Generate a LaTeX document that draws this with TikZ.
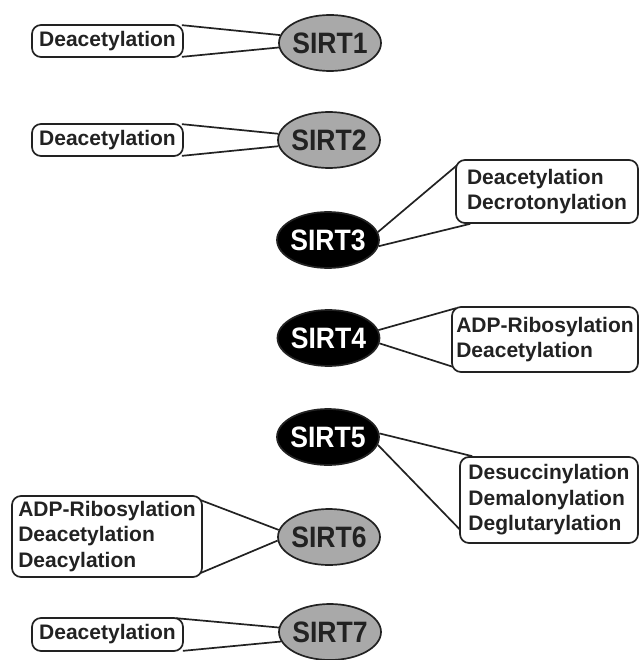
\documentclass[tikz,border=0pt]{standalone}
\usepackage{fontspec}
\setmainfont{Liberation Sans}
\usetikzlibrary{shapes.geometric,calc}
\definecolor{ink}{HTML}{222222}
\definecolor{sirtgray}{HTML}{A9A9A9}
\pgfdeclarelayer{bg}
\pgfsetlayers{bg,main}
\newcommand{\sirtname}[1]{\makebox[0pt]{\scalebox{0.9}[1]{#1}}}
\tikzset{
  sirt/.style={ellipse, draw=ink, line width=1.7pt, minimum width=102pt, minimum height=56pt, inner sep=0pt,
    font=\fontsize{29.5}{31}\selectfont\bfseries},
  light/.style={sirt, fill=sirtgray, text=ink},
  dark/.style={sirt, fill=black, text=white},
  actbox/.style={rectangle, rounded corners=9pt, draw=ink, line width=1.7pt, fill=white, text=ink, inner sep=0pt,
    align=left, font=\fontsize{21}{25.5}\selectfont\bfseries},
  link/.style={draw=ink, line width=1.7pt}
}
\begin{document}
\begin{tikzpicture}[x=1pt,y=-1pt]
\useasboundingbox (0,0) rectangle (639,660);
% SIRT nodes
\node[light] (e1) at (330,43) {\sirtname{SIRT1}};
\node[light] (e2) at (329,140) {\sirtname{SIRT2}};
\node[dark]  (e3) at (328,240) {\sirtname{SIRT3}};
\node[dark]  (e4) at (328.5,338) {\sirtname{SIRT4}};
\node[dark]  (e5) at (328,437) {\sirtname{SIRT5}};
\node[light] (e6) at (329,537) {\sirtname{SIRT6}};
\node[light] (e7) at (330,632) {\sirtname{SIRT7}};
% activity boxes
\node[actbox, minimum width=151pt, minimum height=32pt] (b1) at (107.5,41) {Deacetylation};
\node[actbox, minimum width=151pt, minimum height=32pt] (b2) at (107.5,140) {Deacetylation};
\node[actbox, minimum width=182pt, minimum height=63pt] (b3) at (547,191.5) {Deacetylation\\Decrotonylation};
\node[actbox, minimum width=186pt, minimum height=65pt] (b4) at (545,339.5) {ADP-Ribosylation\\Deacetylation};
\node[actbox, minimum width=178pt, minimum height=86pt] (b5) at (549,500) {Desuccinylation\\Demalonylation\\Deglutarylation};
\node[actbox, minimum width=190pt, minimum height=81pt] (b6) at (107,536.5) {ADP-Ribosylation\\Deacetylation\\Deacylation};
\node[actbox, minimum width=151pt, minimum height=33pt] (b7) at (107.5,634.5) {Deacetylation};
% connectors
\begin{pgfonlayer}{bg}
\draw[link] ([shift={(-2,1)}]b1.north east) -- (e1.171);
\draw[link] ([shift={(-2,-1)}]b1.south east) -- (e1.185);
\draw[link] ([shift={(-2,1)}]b2.north east) -- (e2.173);
\draw[link] ([shift={(-2,-1)}]b2.south east) -- (e2.187);
\draw[link] (e3.9) -- ([shift={(2,6)}]b3.north west);
\draw[link] (e3.-7) -- ([shift={(15,0)}]b3.south west);
\draw[link] (e4.9) -- ([shift={(5,2)}]b4.north west);
\draw[link] (e4.-6) -- ([shift={(5,-5)}]b4.south west);
\draw[link] (e5.4) -- ([shift={(13,0)}]b5.north west);
\draw[link] (e5.-9) -- ([shift={(2,-13)}]b5.south west);
\draw[link] ([shift={(-10,2)}]b6.north east) -- (e6.172);
\draw[link] ([shift={(-9,-2)}]b6.south east) -- (e6.184);
\draw[link] ([shift={(-8,1)}]b7.north east) -- (e7.175);
\draw[link] ([shift={(-1,-1)}]b7.south east) -- (e7.191);
\end{pgfonlayer}
\end{tikzpicture}
\end{document}
